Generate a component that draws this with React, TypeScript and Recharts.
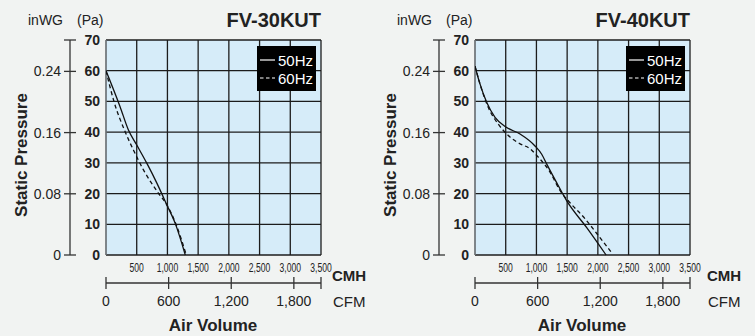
import { CartesianGrid, Legend, Line, LineChart, ReferenceLine, XAxis, YAxis } from "recharts";

// axis ticks
const CMH_TICKS = [500, 1000, 1500, 2000, 2500, 3000, 3500];
const CFM_TICKS = [0, 600, 1200, 1800];
const PA_TICKS = [0, 10, 20, 30, 40, 50, 60, 70];
const INWG_TICKS = [0, 0.08, 0.16, 0.24];

const CMH_PER_CFM = 1.699;
const PA_PER_INWG = 249.09;
const CMH_MAX = 3500;
const PA_MAX = 70;
const CFM_MAX = CMH_MAX / CMH_PER_CFM;
const INWG_MAX = PA_MAX / PA_PER_INWG;

// FV-30KUT (CMH, Pa)
const FV30_CMH_50 = [0, 229, 365, 501, 664, 828, 991, 1127, 1291];
const FV30_PA_50 = [60, 48.3, 40.7, 35.8, 29.9, 23.4, 16.3, 10.3, 0];
const FV30_CMH_60 = [0, 131, 310, 446, 610, 855, 991, 1144, 1307];
const FV30_PA_60 = [60, 49.9, 40.2, 34.2, 27.7, 20.1, 16.3, 9.8, 0];

// FV-40KUT
const FV40_CMH_50 = [0, 81, 190, 326, 516, 733, 977, 1086, 1168, 1331, 1494, 1819, 2134];
const FV40_PA_50 = [61.5, 55.7, 49.7, 44.8, 41.5, 39.4, 35.5, 32.8, 29.6, 23.5, 17.6, 8.9, 0];
const FV40_CMH_60 = [0, 81, 217, 380, 570, 733, 896, 1005, 1221, 1384, 1547, 1792, 1982, 2215];
const FV40_PA_60 = [61.5, 55.7, 48, 42.6, 38.4, 36.2, 34.6, 32.4, 27, 21, 17, 11.8, 7, 1];

const FONT = '"Liberation Sans", Arial, sans-serif';
const TEXT = "#222";
const AXIS = "#333";
const GRID = "#1c1c1c";
const PLOT_BG = "#d6ecf9";
const PAGE_BG = "#f1f3f2";

// axis ids sort alphabetically: the first one sits next to the plot
const X_CMH = "x1";
const X_CFM = "x2";
const Y_PA = "y1";
const Y_INWG = "y2";

const toPoints = (xs: number[], ys: number[]) => xs.map((x, i) => ({ cmh: x, pa: ys[i] }));
const cfmRows = [...CFM_TICKS, CFM_MAX].map((v) => ({ cfm: v }));

const withCommas = (v: number) => Math.round(v).toLocaleString("en-US");

const CmhTick = (props: any) => {
  const { x, y, payload } = props;
  return (
    <g transform={`translate(${x},${y + 16.5})`}>
      <text transform="scale(0.66,1)" textAnchor="middle" fontSize={13} fontFamily={FONT} fill={TEXT}>
        {withCommas(payload.value)}
      </text>
    </g>
  );
};

const CfmTick = (props: any) => {
  const { x, y, payload } = props;
  const showLabel = payload.value < CFM_MAX - 1;
  return (
    <g>
      <line x1={x} x2={x} y1={y - 6} y2={y + 6} stroke={AXIS} strokeWidth={1.3} />
      {showLabel && (
        <text x={x} y={y + 23} textAnchor="middle" fontSize={14} fontFamily={FONT} fill={TEXT}>
          {withCommas(payload.value)}
        </text>
      )}
    </g>
  );
};

const InwgTick = (props: any) => {
  const { x, y, payload } = props;
  const showLabel = payload.value < INWG_MAX - 0.001;
  return (
    <g>
      <line x1={x - 6} x2={x + 6} y1={y} y2={y} stroke={AXIS} strokeWidth={1.3} />
      {showLabel && (
        <text x={x - 9} y={y} dy="0.36em" textAnchor="end" fontSize={14} fontFamily={FONT} fill={TEXT}>
          {payload.value === 0 ? "0" : payload.value.toFixed(2)}
        </text>
      )}
    </g>
  );
};

const LegendBox = () => (
  <div
    style={{
      background: "#000",
      width: 59,
      height: 45,
      color: "#fff",
      fontFamily: '"Liberation Sans Narrow", "Liberation Sans", sans-serif',
      fontSize: 15,
      boxSizing: "border-box",
      paddingTop: 5,
    }}
  >
    {[false, true].map((dashed) => (
      <div key={String(dashed)} style={{ display: "flex", alignItems: "center", height: 18 }}>
        <svg width={21} height={18}>
          <line
            x1={3}
            x2={18}
            y1={9}
            y2={9}
            stroke="#fff"
            strokeWidth={1.2}
            strokeDasharray={dashed ? "3.5 2.5" : undefined}
          />
        </svg>
        <span>{dashed ? "60Hz" : "50Hz"}</span>
      </div>
    ))}
  </div>
);

type PanelProps = {
  title: string;
  left: number;
  unitX: number;
  solid: { cmh: number; pa: number }[];
  dashed: { cmh: number; pa: number }[];
};

function Panel({ title, left, unitX, solid, dashed }: PanelProps) {
  const textBase = { position: "absolute" as const, fontFamily: FONT, color: TEXT, whiteSpace: "nowrap" as const };
  return (
    <div style={{ position: "absolute", left, top: 0, width: 375, height: 336 }}>
      <LineChart width={375} height={336} data={cfmRows} margin={{ top: 40, right: 54, bottom: 0, left: 0 }}>
        <CartesianGrid
          xAxisId={X_CMH}
          yAxisId={Y_PA}
          fill={PLOT_BG}
          fillOpacity={1}
          stroke={GRID}
          strokeWidth={1.3}
        />
        <XAxis
          xAxisId={X_CMH}
          dataKey="cmh"
          type="number"
          domain={[0, CMH_MAX]}
          ticks={CMH_TICKS}
          interval={0}
          allowDataOverflow
          axisLine={false}
          tickLine={false}
          tickSize={0}
          tickMargin={0}
          height={28}
          tick={<CmhTick />}
        />
        <XAxis
          xAxisId={X_CFM}
          dataKey="cfm"
          type="number"
          domain={[0, CFM_MAX]}
          ticks={[...CFM_TICKS, CFM_MAX]}
          interval={0}
          allowDataOverflow
          axisLine={{ stroke: AXIS, strokeWidth: 1.3 }}
          tickLine={false}
          tickSize={0}
          tickMargin={0}
          height={53}
          tick={<CfmTick />}
        />
        <YAxis
          yAxisId={Y_PA}
          type="number"
          domain={[0, PA_MAX]}
          ticks={PA_TICKS}
          interval={0}
          axisLine={false}
          tickLine={false}
          tickSize={0}
          tickMargin={6}
          width={36}
          tick={{ fontSize: 14, fontWeight: 700, fill: TEXT, fontFamily: FONT }}
        />
        <YAxis
          yAxisId={Y_INWG}
          type="number"
          domain={[0, INWG_MAX]}
          ticks={[...INWG_TICKS, INWG_MAX]}
          interval={0}
          allowDataOverflow
          axisLine={{ stroke: AXIS, strokeWidth: 1.3 }}
          tickLine={false}
          tickSize={0}
          tickMargin={0}
          width={70}
          tick={<InwgTick />}
        />
        <ReferenceLine xAxisId={X_CMH} yAxisId={Y_PA} x={0} stroke="#9aa4aa" strokeWidth={1} />
        <Line
          xAxisId={X_CMH}
          yAxisId={Y_PA}
          data={solid}
          dataKey="pa"
          type="monotone"
          stroke="#111"
          strokeWidth={1.3}
          dot={false}
          isAnimationActive={false}
        />
        <Line
          xAxisId={X_CMH}
          yAxisId={Y_PA}
          data={dashed}
          dataKey="pa"
          type="monotone"
          stroke="#111"
          strokeWidth={1.3}
          strokeDasharray="4 3"
          dot={false}
          isAnimationActive={false}
        />
        <Legend
          layout="horizontal"
          verticalAlign="middle"
          align="center"
          content={() => <LegendBox />}
          wrapperStyle={{ position: "absolute", left: 257, top: 46, width: 59, height: 45 }}
        />
      </LineChart>

      <div style={{ ...textBase, left: 28, top: 13, fontSize: 14, lineHeight: "14px" }}>inWG</div>
      <div style={{ ...textBase, left: 77, top: 13, fontSize: 14, lineHeight: "14px" }}>(Pa)</div>
      <div
        style={{
          ...textBase,
          left: 0,
          width: 321,
          top: 10,
          textAlign: "right",
          fontSize: 20,
          fontWeight: 700,
          lineHeight: "20px",
        }}
      >
        {title}
      </div>
      <div
        style={{
          ...textBase,
          left: 21,
          top: 155,
          fontSize: 17,
          fontWeight: 700,
          lineHeight: "17px",
          transform: "translate(-50%, -50%) rotate(-90deg)",
        }}
      >
        Static Pressure
      </div>
      <div style={{ ...textBase, left: unitX, top: 268, fontSize: 15, fontWeight: 700, lineHeight: "15px" }}>CMH</div>
      <div style={{ ...textBase, left: unitX + 1, top: 294, fontSize: 15, lineHeight: "15px" }}>CFM</div>
      <div
        style={{
          ...textBase,
          left: 213,
          top: 317,
          fontSize: 17,
          fontWeight: 700,
          lineHeight: "17px",
          transform: "translateX(-50%)",
        }}
      >
        Air Volume
      </div>
    </div>
  );
}

export default function App() {
  return (
    <div style={{ position: "absolute", left: 0, top: 0, width: 755, height: 336, background: PAGE_BG, overflow: "hidden" }}>
      <Panel
        title="FV-30KUT"
        left={0}
        unitX={332}
        solid={toPoints(FV30_CMH_50, FV30_PA_50)}
        dashed={toPoints(FV30_CMH_60, FV30_PA_60)}
      />
      <Panel
        title="FV-40KUT"
        left={369}
        unitX={338}
        solid={toPoints(FV40_CMH_50, FV40_PA_50)}
        dashed={toPoints(FV40_CMH_60, FV40_PA_60)}
      />
    </div>
  );
}
